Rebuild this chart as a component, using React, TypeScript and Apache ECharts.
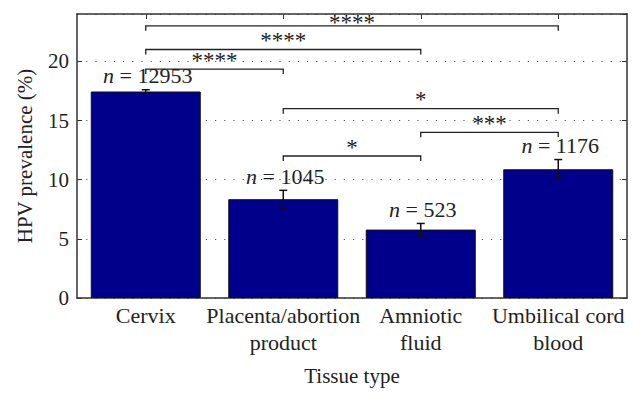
import React, { useEffect, useRef } from 'react';
import * as echarts from 'echarts';

const categories = ['Cervix', 'Placenta/abortion\nproduct', 'Amniotic\nfluid', 'Umbilical cord\nblood'];
const prevalence = [17.45, 8.35, 5.78, 10.88];
const errLow = [17.3, 7.6, 5.2, 10.05];
const errHigh = [17.6, 9.1, 6.3, 11.7];
const sampleSizes = ['12953', '1045', '523', '1176'];
const bracketFrom = [0, 0, 0, 1, 2, 1];
const bracketTo = [3, 2, 1, 3, 3, 2];
const bracketLevel = [23.0, 21.0, 19.35, 16.0, 14.0, 12.0];
const bracketLabel = ['****', '****', '****', '*', '***', '*'];

const FONT = "'Liberation Serif', 'Times New Roman', serif";
const TXT = '#222';

export default function App() {
  const ref = useRef<HTMLDivElement>(null);
  useEffect(() => {
    if (!ref.current) return;
    const chart = echarts.init(ref.current, undefined, { renderer: 'svg' });
    const yAxisBase = {
      type: 'value',
      min: 0,
      max: 24,
      interval: 5,
      axisLine: { show: true, lineStyle: { color: '#333', width: 1.5 } },
      axisTick: { show: true, inside: true, length: 5, lineStyle: { color: '#333' } },
    };
    chart.setOption({
      animation: false,
      grid: { left: 77, right: 15, top: 14, bottom: 105, show: false },
      xAxis: [
        {
          type: 'category',
          data: categories,
          position: 'bottom',
          axisLine: { show: true, onZero: false, lineStyle: { color: '#333', width: 1.5 } },
          axisTick: { show: false },
          axisLabel: { fontFamily: FONT, fontSize: 22, color: TXT, lineHeight: 27, margin: 4, interval: 0 },
          name: 'Tissue type',
          nameLocation: 'middle',
          nameGap: 67,
          nameTextStyle: { fontFamily: FONT, fontSize: 21, color: TXT },
        },
        {
          type: 'category',
          data: categories,
          position: 'top',
          axisLine: { show: true, onZero: false, lineStyle: { color: '#333', width: 1.5 } },
          axisTick: { show: true, inside: true, alignWithLabel: true, length: 5, lineStyle: { color: '#333' } },
          axisLabel: { show: false },
        },
      ],
      yAxis: [
        {
          ...yAxisBase,
          position: 'left',
          name: 'HPV prevalence (%)',
          nameLocation: 'middle',
          nameGap: 42,
          nameTextStyle: { fontFamily: FONT, fontSize: 21, color: TXT },
          axisLabel: {
            fontFamily: FONT, fontSize: 21, color: TXT, margin: 8,
            showMaxLabel: false,
            formatter: (v: number) => (v % 5 === 0 ? String(v) : ''),
          },
          splitLine: {
            show: true,
            lineStyle: { color: '#555', type: [1.2, 8], width: 1.2 },
          },
        },
        {
          ...yAxisBase,
          position: 'right',
          axisLabel: { show: false },
          splitLine: { show: false },
        },
      ],
      series: [
        {
          type: 'bar',
          data: prevalence,
          barWidth: '80%',
          itemStyle: { color: '#00008B', borderColor: '#111', borderWidth: 1 },
          z: 2,
        },
        {
          type: 'custom',
          z: 5,
          clip: false,
          data: prevalence.map((_, i) => [i, errLow[i], errHigh[i]]),
          renderItem: (params: any, api: any) => {
            const i = api.value(0);
            const lo = api.coord([i, api.value(1)]);
            const hi = api.coord([i, api.value(2)]);
            const cw = 4;
            const style = { stroke: '#111', lineWidth: 1.5 };
            return {
              type: 'group',
              children: [
                { type: 'line', shape: { x1: lo[0], y1: lo[1], x2: hi[0], y2: hi[1] }, style },
                { type: 'line', shape: { x1: hi[0] - cw, y1: hi[1], x2: hi[0] + cw, y2: hi[1] }, style },
                { type: 'line', shape: { x1: lo[0] - cw, y1: lo[1], x2: lo[0] + cw, y2: lo[1] }, style },
              ],
            };
          },
        },
        {
          type: 'custom',
          z: 6,
          clip: false,
          data: sampleSizes.map((_, i) => [i, errHigh[i]]),
          renderItem: (params: any, api: any) => {
            const i = api.value(0);
            const p = api.coord([i, api.value(1)]);
            return {
              type: 'text',
              x: p[0] + 2,
              y: p[1] - 3,
              style: {
                text: '{i|n} = ' + sampleSizes[i],
                align: 'center',
                verticalAlign: 'bottom',
                fontFamily: FONT,
                fontSize: 22,
                fill: TXT,
                rich: { i: { fontStyle: 'italic', fontFamily: FONT, fontSize: 22, fill: TXT } },
              },
            };
          },
        },
        {
          type: 'custom',
          z: 6,
          clip: false,
          data: bracketFrom.map((f, i) => [f, bracketTo[i], bracketLevel[i], i]),
          renderItem: (params: any, api: any) => {
            const a = api.value(0);
            const b = api.value(1);
            const lv = api.value(2);
            const idx = api.value(3);
            const pa = api.coord([a, lv]);
            const pb = api.coord([b, lv]);
            const top = api.coord([0, 24])[1];
            const drop = 5;
            const ty = Math.max(pa[1] - 9, top + 8);
            return {
              type: 'group',
              children: [
                {
                  type: 'polyline',
                  shape: { points: [[pa[0], pa[1] + drop], [pa[0], pa[1]], [pb[0], pb[1]], [pb[0], pb[1] + drop]] },
                  style: { stroke: '#222', lineWidth: 1.3, fill: null },
                },
                {
                  type: 'text',
                  x: (pa[0] + pb[0]) / 2,
                  y: ty,
                  style: {
                    text: bracketLabel[idx],
                    align: 'center',
                    verticalAlign: 'middle',
                    fontFamily: FONT,
                    fontSize: 23,
                    fill: TXT,
                  },
                },
              ],
            };
          },
        },
      ],
    });
    return () => chart.dispose();
  }, []);
  return <div ref={ref} style={{ position: 'fixed', left: 0, top: 0, width: 642, height: 403, background: '#fff' }} />;
}
